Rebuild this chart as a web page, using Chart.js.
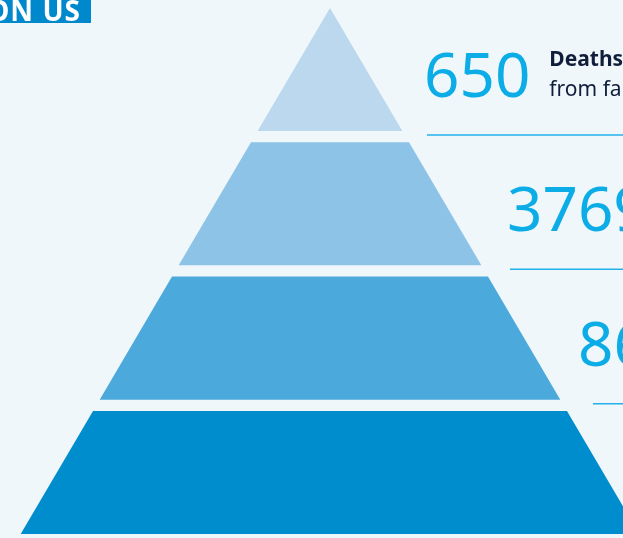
<!DOCTYPE html>
<html>
<head>
<meta charset="utf-8">
<script src="https://cdn.jsdelivr.net/npm/chart.js@4/dist/chart.umd.min.js"></script>
<style>
  html, body { margin: 0; padding: 0; background: #F0F7FB; overflow: hidden; }
  #wrap { width: 623px; height: 538px; }
</style>
</head>
<body>
<div id="wrap"><canvas id="c" width="623" height="538"></canvas></div>
<script>
// ---- Data ----
const tiers = ['Tier 1', 'Tier 2', 'Tier 3', 'Tier 4'];          // top to bottom
const figures = ['650', '3769', '86'];                             // numbers shown beside tiers
const captionBold = ['Deaths', '', ''];
const captionText = ['from falls', '', ''];
const bannerText = ['ON US'];

// ---- Styling / geometry ----
const tierColors = ['#BBD8EF', '#8DC3E6', '#4BA9DC', '#008DCD'];
const numberColor = '#0CADE6';
const ruleColor = '#22B2E8';
const numberIndent = [-3, -3, -15];
const APEX = 3.916, TIER_H = 0.916, SLOPE = 0.588;
const halfW = y => Math.max(0, (APEX - y) * SLOPE);
const X_MIN = -2.4566, X_MAX = 2.1812, Y_MIN = -0.0298, Y_MAX = 3.9753;

const n = tiers.length;
const datasets = [];
tiers.forEach((t, k) => {
  const b = (n - 1 - k), top = b + TIER_H;
  datasets.push({
    label: t,
    data: [
      {x: -halfW(b), y: b}, {x: halfW(b), y: b},
      {x: halfW(top), y: top}, {x: -halfW(top), y: top}, {x: -halfW(b), y: b}
    ],
    showLine: true, fill: 'shape', backgroundColor: tierColors[k],
    borderWidth: 0, borderColor: 'rgba(0,0,0,0)', pointRadius: 0, tension: 0
  });
});
const ruleLevel = k => (n - 1 - k) - 0.03;
const ruleStart = y => 0.618 * (4.138 - y);
figures.forEach((f, k) => {
  const L = ruleLevel(k);
  datasets.push({
    label: 'rule ' + f,
    data: [{x: ruleStart(L), y: L}, {x: X_MAX + 0.1, y: L}],
    showLine: true, fill: false, borderColor: ruleColor, borderWidth: 1.5,
    pointRadius: 0
  });
});

const textPlugin = {
  id: 'texts',
  beforeDraw(chart) {
    const ctx = chart.ctx;
    ctx.save();
    ctx.fillStyle = '#F0F7FB';
    ctx.fillRect(0, 0, chart.width, chart.height);
    ctx.restore();
  },
  afterDatasetsDraw(chart) {
    const ctx = chart.ctx, xs = chart.scales.x, ys = chart.scales.y;
    ctx.save();
    figures.forEach((f, k) => {
      const L = ruleLevel(k);
      const px = xs.getPixelForValue(ruleStart(L)) + numberIndent[k];
      const py = ys.getPixelForValue(L);
      ctx.font = '62px "Noto Sans"';
      ctx.fillStyle = numberColor;
      ctx.textAlign = 'left';
      ctx.textBaseline = 'alphabetic';
      ctx.fillText(f, px, py - 38);
      const w = ctx.measureText(f).width;
      if (captionBold[k]) {
        ctx.fillStyle = '#101D3B';
        ctx.font = 'bold 21px "Noto Sans"';
        ctx.fillText(captionBold[k], px + w + 19, py - 69);
        ctx.font = '21px "Noto Sans"';
        ctx.fillText(captionText[k], px + w + 19, py - 39);
      }
    });
    // banner
    ctx.fillStyle = '#0088CC';
    ctx.fillRect(0, 0, 91, 23);
    ctx.fillStyle = '#FFFFFF';
    ctx.font = 'bold 28px "Noto Sans"';
    ctx.letterSpacing = '1px';
    ctx.textAlign = 'right';
    ctx.fillText(bannerText[0], 81, 21);
    ctx.restore();
  }
};

new Chart(document.getElementById('c'), {
  type: 'scatter',
  data: { datasets },
  options: {
    responsive: false, animation: false,
    layout: { padding: 0 },
    plugins: { legend: { display: false }, tooltip: { enabled: false } },
    scales: {
      x: { type: 'linear', display: false, min: X_MIN, max: X_MAX },
      y: { type: 'linear', display: false, min: Y_MIN, max: Y_MAX }
    }
  },
  plugins: [textPlugin]
});
</script>
</body>
</html>
